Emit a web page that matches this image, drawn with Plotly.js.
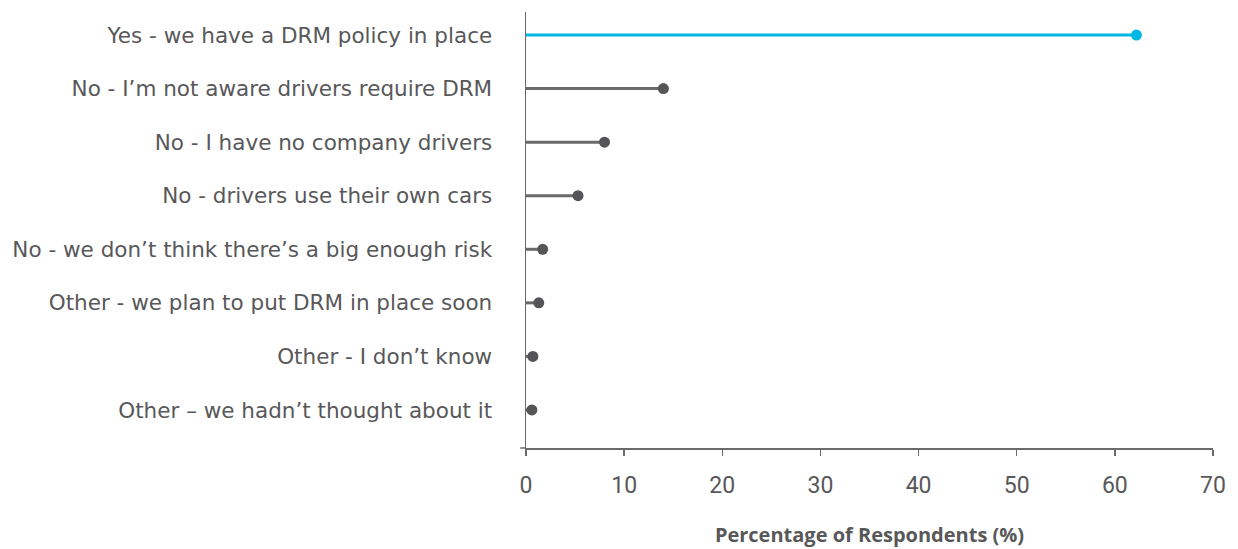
<!DOCTYPE html>
<html>
<head>
<meta charset="utf-8">
<script src="https://cdn.plot.ly/plotly-3.0.1.min.js"></script>
<style>
  html, body { margin: 0; padding: 0; background: #fff; }
  #chart { width: 1238px; height: 549px; }
</style>
</head>
<body>
<div id="chart"></div>
<script>
// Survey responses: does the organisation have a driver risk management (DRM) policy?
const categories = [
  "Yes - we have a DRM policy in place",
  "No - I\u2019m not aware drivers require DRM",
  "No - I have no company drivers",
  "No - drivers use their own cars",
  "No - we don\u2019t think there\u2019s a big enough risk",
  "Other - we plan to put DRM in place soon",
  "Other - I don\u2019t know",
  "Other \u2013 we hadn\u2019t thought about it"
];
const percentages = [62.2, 14.0, 8.0, 5.3, 1.7, 1.3, 0.7, 0.6];
const xTicks = [0, 10, 20, 30, 40, 50, 60, 70];

const BLUE = "#00b8e3";
const STEM = "#6a6a6a";
const DOT = "#555558";
const TEXT = "#58585a";
const LABELFONT = "'DejaVu Sans', 'Noto Sans', sans-serif";
const TITLEFONT = "'Open Sans', 'Noto Sans', sans-serif";
const NUMFONT = "Roboto, sans-serif";

// Stems: one segment per category from 0 to its value
const stemX = [], stemY = [], hlX = [], hlY = [];
categories.forEach((c, i) => {
  const xs = i === 0 ? hlX : stemX;
  const ys = i === 0 ? hlY : stemY;
  xs.push(0, percentages[i], null);
  ys.push(c, c, null);
});

const traces = [
  { type: "scatter", mode: "lines", x: stemX, y: stemY,
    line: { color: STEM, width: 3 }, hoverinfo: "skip", showlegend: false },
  { type: "scatter", mode: "lines", x: hlX, y: hlY,
    line: { color: BLUE, width: 3 }, hoverinfo: "skip", showlegend: false },
  { type: "scatter", mode: "markers", x: percentages, y: categories,
    marker: { size: 11, color: percentages.map((v, i) => i === 0 ? BLUE : DOT) },
    showlegend: false, cliponaxis: false }
];

const layout = {
  width: 1238, height: 549,
  margin: { l: 526, r: 25, t: 12, b: 101 },
  paper_bgcolor: "#fff", plot_bgcolor: "#fff",
  font: { family: LABELFONT, color: TEXT, size: 20 },
  showlegend: false,
  xaxis: {
    range: [0, 70], tickvals: xTicks, ticktext: xTicks.map(String),
    showgrid: false, zeroline: false,
    showline: true, linecolor: "#6a6a6a", linewidth: 1.5,
    ticks: "outside", ticklen: 6, tickwidth: 1.5, tickcolor: "#6a6a6a",
    ticklabelstandoff: 10,
    tickfont: { family: NUMFONT, size: 23, color: TEXT },
    title: { text: "Percentage of Respondents (%)", standoff: 30,
             font: { family: TITLEFONT, size: 20, color: TEXT, weight: "bold" } },
    fixedrange: true
  },
  yaxis: {
    type: "category", categoryorder: "array", categoryarray: categories,
    range: [7.71, -0.43],
    showgrid: false, zeroline: false,
    showline: true, linecolor: "#6a6a6a", linewidth: 1.5,
    ticks: "", ticklabelstandoff: 28,
    tickfont: { family: LABELFONT, size: 21.5, color: TEXT },
    fixedrange: true
  },
  shapes: [
    // short outward stub where the two axes meet
    { type: "line", xref: "paper", yref: "paper", x0: -0.0085, x1: 0, y0: 0, y1: 0,
      line: { color: "#6a6a6a", width: 1.5 } }
  ]
};

Plotly.newPlot("chart", traces, layout, { displayModeBar: false, staticPlot: true });
</script>
</body>
</html>
